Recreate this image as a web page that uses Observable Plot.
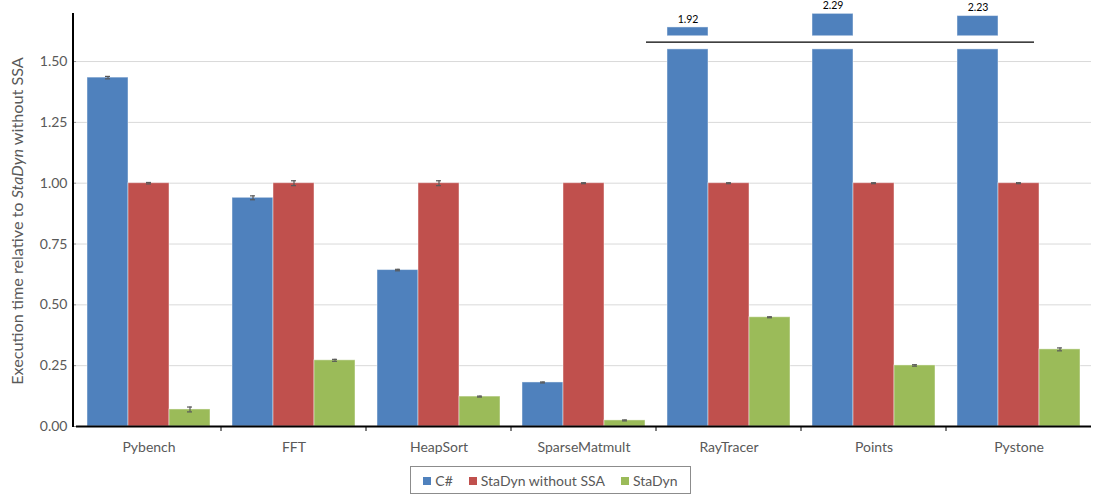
<!DOCTYPE html>
<html>
<head>
<meta charset="utf-8">
<script src="https://cdn.jsdelivr.net/npm/d3@7"></script>
<script src="https://cdn.jsdelivr.net/npm/@observablehq/plot@0.6"></script>
<style>
  body { margin: 0; background: #fff; font-family: Lato, "Open Sans", sans-serif; }
  #wrap { position: relative; width: 1094px; height: 495px; }
  #legend { position: absolute; left: 410px; top: 466px; width: 281px; height: 28px; border: 1px solid #8c8c8c; box-sizing: border-box;
            display: flex; align-items: center; justify-content: center; gap: 16px; font-size: 14px; color: #595959; }
  #legend span.sw { display: inline-block; width: 8px; height: 8px; margin-right: 4px; vertical-align: 1px; }
</style>
</head>
<body>
<div id="wrap"></div>
<script>
const categories = ["Pybench", "FFT", "HeapSort", "SparseMatmult", "RayTracer", "Points", "Pystone"];
const series = ["C#", "StaDyn without SSA", "StaDyn"];
const colors = ["#4F81BD", "#C0504D", "#9BBB59"];
const csharp = [1.434, 0.940, 0.643, 0.181, 1.92, 2.29, 2.23];
const stadynNoSSA = [1.000, 1.000, 1.000, 1.000, 1.000, 1.000, 1.000];
const stadyn = [0.070, 0.272, 0.123, 0.025, 0.449, 0.251, 0.317];
const errCsharp = [0.005, 0.008, 0.003, 0.002, 0, 0, 0];
const errNoSSA = [0.003, 0.010, 0.010, 0.002, 0.002, 0.002, 0.002];
const errStadyn = [0.010, 0.004, 0.002, 0.002, 0.002, 0.003, 0.006];
const yTicks = [0, 0.25, 0.5, 0.75, 1.0, 1.25, 1.5];

// axis break: bars above breakLow are cut; their tops are drawn in a compressed band
const breakLow = 1.55, breakLine = 1.578, upperBase = 1.604, yTop = 1.6975;
const upperMap = d3.scaleLinear().domain([1.68, 2.3]).range([upperBase, yTop]);

const values = [csharp, stadynNoSSA, stadyn];
const errs = [errCsharp, errNoSSA, errStadyn];
const rows = [];
categories.forEach((c, i) => series.forEach((s, j) => {
  rows.push({cat: c, s, v: values[j][i], e: errs[j][i]});
}));
const broken = rows.filter(d => d.v > breakLow);
const errRows = rows.filter(d => d.e > 0);

const W = 1094, H = 462, plotTop = 13, plotBottom = 426;
const chart = Plot.plot({
  width: W, height: H,
  marginLeft: 73, marginRight: 0, marginTop: plotTop, marginBottom: H - plotBottom,
  style: {fontFamily: "Lato, 'Open Sans', sans-serif", fontSize: "14px", color: "#595959", background: "white"},
  fx: {domain: categories, padding: 0},
  x: {domain: series, paddingInner: 0, paddingOuter: 0.26, axis: null},
  y: {domain: [0, yTop]},
  color: {domain: series, range: colors},
  marks: [
    Plot.gridY({ticks: yTicks, stroke: "#d9d9d9", strokeOpacity: 1, strokeWidth: 1}),
    Plot.barY(rows, {fx: "cat", x: "s", y1: 0, y2: d => Math.min(d.v, breakLow), fill: "s",
                     stroke: "white", strokeOpacity: 0.45, strokeWidth: 1}),
    Plot.barY(broken, {fx: "cat", x: "s", y1: upperBase, y2: d => upperMap(d.v), fill: "s",
                       stroke: "white", strokeOpacity: 0.45, strokeWidth: 1}),
    Plot.text(broken, {fx: "cat", x: "s", y: d => upperMap(d.v), text: d => d.v.toFixed(2), dy: -8, fontSize: 10.5, fill: "#000"}),
    Plot.ruleX(errRows, {fx: "cat", x: "s", y1: d => d.v - d.e, y2: d => d.v + d.e, stroke: "#595959", strokeWidth: 1.2}),
    Plot.tickY(errRows, {fx: "cat", x: "s", y: d => d.v - d.e, stroke: "#595959", strokeWidth: 1.2, insetLeft: 18, insetRight: 18}),
    Plot.tickY(errRows, {fx: "cat", x: "s", y: d => d.v + d.e, stroke: "#595959", strokeWidth: 1.2, insetLeft: 18, insetRight: 18}),
    Plot.ruleY([0], {stroke: "black", strokeWidth: 2}),
    Plot.axisY({ticks: yTicks, tickFormat: d3.format(".2f"), tickSize: 4, tickPadding: 5, stroke: "#8c8c8c",
                fill: "#595959", fontSize: 14, label: null}),
    Plot.axisFx({anchor: "bottom", tickSize: 0, tickPadding: 16, label: null, fill: "#595959", fontSize: 14})
  ]
});

document.getElementById("wrap").appendChild(chart);
const svg = d3.select(chart);
const fx = chart.scale("fx");
const y = chart.scale("y");

// left axis line
svg.append("line").attr("x1", 73).attr("x2", 73).attr("y1", y.apply(yTop)).attr("y2", y.apply(0) + 1)
  .attr("stroke", "black").attr("stroke-width", 2);
// category boundary ticks
categories.slice(1).forEach(c => {
  const xx = fx.apply(c);
  svg.append("line").attr("x1", xx).attr("x2", xx).attr("y1", y.apply(0)).attr("y2", y.apply(0) + 5)
    .attr("stroke", "black").attr("stroke-width", 1);
});
// break line across the broken groups
const firstBroken = categories[csharp.findIndex(v => v > breakLow)];
const lastBroken = categories[categories.length - 1 - [...csharp].reverse().findIndex(v => v > breakLow)];
const yb = y.apply(breakLine);
svg.append("line").attr("x1", fx.apply(firstBroken) - 10).attr("x2", fx.apply(lastBroken) + 88)
  .attr("y1", yb).attr("y2", yb).attr("stroke", "black").attr("stroke-width", 1.3);
// y label with italic StaDyn
const lab = svg.append("text").attr("transform", `translate(23,221) rotate(-90)`)
  .attr("text-anchor", "middle").attr("fill", "#595959").attr("font-size", 16.2);
lab.append("tspan").text("Execution time relative to ");
lab.append("tspan").attr("font-style", "italic").text("StaDyn");
lab.append("tspan").text(" without SSA");

// legend
const lg = document.createElement("div");
lg.id = "legend";
lg.innerHTML = series.map((s, i) => `<div><span class="sw" style="background:${colors[i]}"></span>${s}</div>`).join("");
document.getElementById("wrap").appendChild(lg);
</script>
</body>
</html>
